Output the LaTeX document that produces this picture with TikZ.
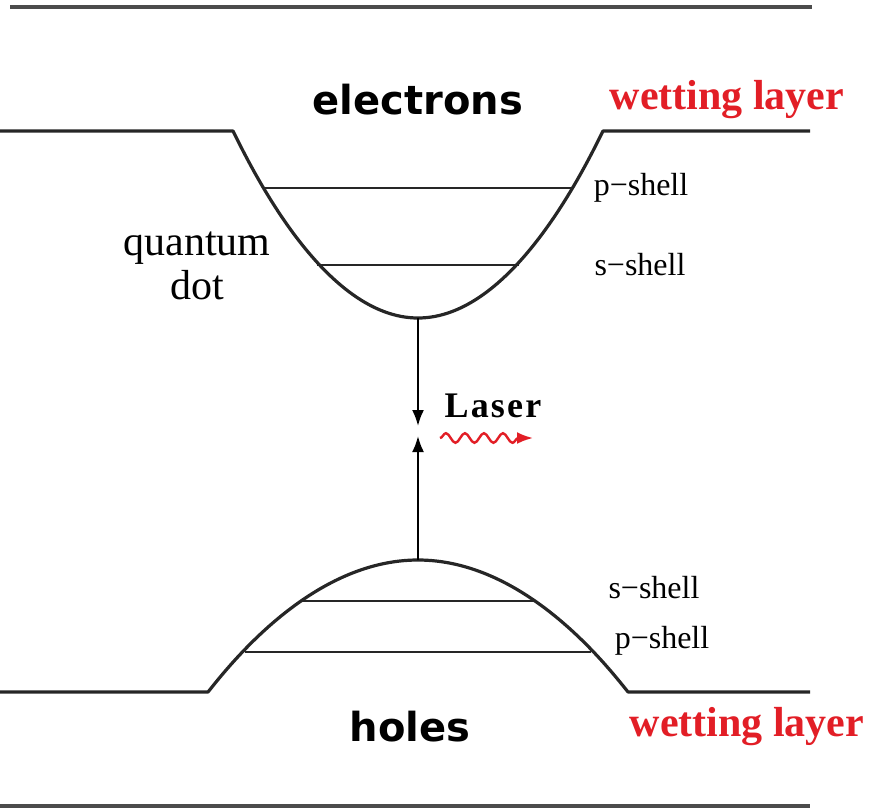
\documentclass[tikz,border=0pt]{standalone}
\usepackage{fontspec}
\setmainfont{Liberation Serif}
\newfontfamily\carrierfont{DejaVu Sans}
\usetikzlibrary{arrows.meta,decorations.pathmorphing}
\definecolor{wetred}{RGB}{226,30,38}

\begin{document}
\begin{tikzpicture}[
  x=0.5pt, y=-0.5pt,
  >={Latex[length=8pt,width=6pt]},
  band/.style={line width=1.6pt, draw=black!85, line join=round},
  level/.style={line width=1.4pt, draw=black!85},
  frame/.style={line width=1.8pt, draw=black!70},
  transition/.style={->, line width=1.1pt, draw=black},
  photon/.style={
    ->, draw=wetred, line width=1.2pt, decorate,
    decoration={snake, amplitude=2.4pt, segment length=9.5pt, post length=6pt}
  },
  carrier/.style={font=\carrierfont\bfseries\fontsize{20}{24}\selectfont},
  wetting/.style={font=\bfseries\fontsize{21}{24}\selectfont, text=wetred},
  shell/.style={font=\fontsize{16}{19}\selectfont},
  dotlabel/.style={font=\fontsize{21}{22}\selectfont, align=center}
]
\useasboundingbox (0,0) rectangle (872,809);

% Outer frame lines.
\draw[frame] (10,7) -- (812,7);
\draw[frame] (0,806) -- (810,806);

% Conduction band with the dot potential well.
\draw[band] (0,131) -- (233,131) parabola bend (418,318) (603,131) -- (810,131);
\draw[level] (265,188) -- (571,188);
\draw[level] (317,265) -- (519,265);
\coordinate (dotbottom) at (418,318);

% Valence band with the inverted well for holes.
\draw[band] (0,692) -- (208,692) parabola bend (418,560) (628,692) -- (810,692);
\draw[level] (301,601) -- (535,601);
\draw[level] (245,652) -- (591,652);
\coordinate (holetop) at (418,560);

% Labels.
\node[carrier] (electrons) at (418,100) {electrons};
\node[wetting] (wettop) at (727,100) {wetting layer};
\node[shell] (pshelltop) at (641,188) {p−shell};
\node[shell] (sshelltop) at (640,265) {s−shell};
\node[dotlabel] (qdot) at (197,266) {quantum\\dot};
\node[shell] (sshellbot) at (654,588) {s−shell};
\node[shell] (pshellbot) at (662,641) {p−shell};
\node[carrier] (holes) at (410,727) {holes};
\node[wetting] (wetbot) at (747,727) {wetting layer};

% Recombination and emitted light.
\coordinate (etip) at (418,426);
\coordinate (htip) at (418,436);
\draw[transition] (dotbottom) -- (etip);
\draw[transition] (holetop) -- (htip);
\node[font=\bfseries\fontsize{18}{20}\selectfont\addfontfeatures{LetterSpace=6}] (laser) at (493,406) {Laser};
\coordinate (wavestart) at (440,438);
\coordinate (waveend) at (533,438);
\draw[photon] (wavestart) -- (waveend);

\end{tikzpicture}
\end{document}
